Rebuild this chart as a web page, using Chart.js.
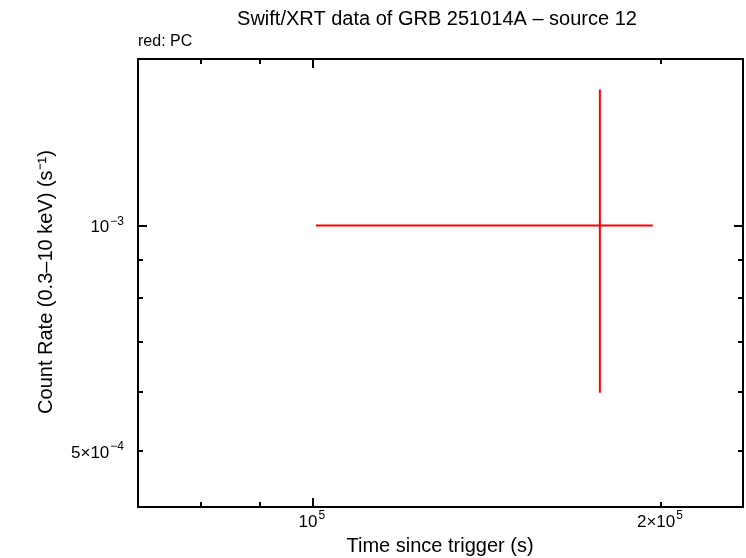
<!DOCTYPE html>
<html lang="en">
<head>
    <meta charset="UTF-8">
    <title>Swift/XRT data of GRB 251014A - source 12</title>
    <script src="https://cdn.jsdelivr.net/npm/chart.js"></script>
    <style>
        body { margin: 0; background: #fff; }
        canvas { display: block; }
    </style>
</head>
<body>
    <canvas id="lcChart" width="746" height="558"></canvas>

    <script>
        // light curve bin (PC mode)
        const timeCenter = [177100];
        const timeLo = [100600];
        const timeHi = [196800];
        const rate = [1.0e-3];
        const rateLo = [5.98e-4];
        const rateHi = [1.52e-3];

        // axis ranges and ticks (labels are [mantissa, exponent])
        const xRange = [70600, 235500];
        const yRange = [4.21e-4, 1.669e-3];
        const xMajor = [1e5, 2e5];
        const xLabels = [['10', '5'], ['2×10', '5']];
        const xMinor = [8e4, 9e4];
        const yMajor = [1e-3, 5e-4];
        const yLabels = [['10', '−3'], ['5×10', '−4']];
        const yMinor = [6e-4, 7e-4, 8e-4, 9e-4];

        const FONT = '"Liberation Sans", Arial, sans-serif';

        // each bin -> horizontal + vertical error segment
        const datasets = [];
        timeCenter.forEach((t, i) => {
            datasets.push({
                data: [{x: timeLo[i], y: rate[i]}, {x: timeHi[i], y: rate[i]}],
                borderColor: '#ff0000', borderWidth: 2, pointRadius: 0, showLine: true
            });
            datasets.push({
                data: [{x: t, y: rateLo[i]}, {x: t, y: rateHi[i]}],
                borderColor: '#ff0000', borderWidth: 2, pointRadius: 0, showLine: true
            });
        });

        // draws "base^sup"; align: 'center' or 'right' around x
        function supLabel(c, parts, x, y, align) {
            c.font = '17px ' + FONT;
            const wb = c.measureText(parts[0]).width;
            c.font = '12px ' + FONT;
            const ws = c.measureText(parts[1]).width;
            const total = wb + 1 + ws;
            const x0 = align === 'right' ? x - total : x - total / 2;
            c.textAlign = 'left';
            c.textBaseline = 'middle';
            c.font = '17px ' + FONT;
            c.fillText(parts[0], x0, y);
            c.font = '12px ' + FONT;
            c.fillText(parts[1], x0 + wb + 1, y - 6);
        }

        const frame = {
            id: 'frame',
            afterDraw(chart) {
                const c = chart.ctx, a = chart.chartArea;
                const xs = chart.scales.x, ys = chart.scales.y;
                c.save();
                c.strokeStyle = '#000';
                c.lineWidth = 2;
                c.strokeRect(a.left, a.top, a.right - a.left, a.bottom - a.top);

                const xt = (v, len) => {
                    const p = Math.round(xs.getPixelForValue(v));
                    c.beginPath();
                    c.moveTo(p, a.bottom); c.lineTo(p, a.bottom - len);
                    c.moveTo(p, a.top); c.lineTo(p, a.top + len);
                    c.stroke();
                };
                const yt = (v, len) => {
                    const p = Math.round(ys.getPixelForValue(v));
                    c.beginPath();
                    c.moveTo(a.left, p); c.lineTo(a.left + len, p);
                    c.moveTo(a.right, p); c.lineTo(a.right - len, p);
                    c.stroke();
                };
                xt(xMajor[0], 9); xt(xMajor[1], 5);
                xMinor.forEach(v => xt(v, 5));
                yt(yMajor[0], 9); yt(yMajor[1], 5);
                yMinor.forEach(v => yt(v, 5));

                c.fillStyle = '#000';
                xMajor.forEach((v, i) => supLabel(c, xLabels[i], xs.getPixelForValue(v) - 1, a.bottom + 15, 'center'));
                yMajor.forEach((v, i) => supLabel(c, yLabels[i], a.left - 14, ys.getPixelForValue(v) + 2, 'right'));

                c.font = '20px ' + FONT;
                c.textBaseline = 'middle';
                c.textAlign = 'center';
                c.fillText('Swift/XRT data of GRB 251014A – source 12', 437, 19);
                c.fillText('Time since trigger (s)', 440, 546);
                c.font = '16px ' + FONT;
                c.textAlign = 'left';
                c.fillText('red: PC', 138, 42);

                c.font = '20px ' + FONT;
                c.translate(46, 282);
                c.rotate(-Math.PI / 2);
                c.textAlign = 'center';
                c.fillText('Count Rate (0.3–10 keV) (s⁻¹)', 0, 0);
                c.restore();
            }
        };

        new Chart(document.getElementById('lcChart'), {
            type: 'scatter',
            data: { datasets: datasets },
            options: {
                responsive: false,
                animation: false,
                layout: { padding: { top: 59, right: 3, left: 0, bottom: 0 } },
                plugins: { legend: { display: false }, tooltip: { enabled: false } },
                scales: {
                    x: {
                        type: 'logarithmic',
                        min: xRange[0], max: xRange[1],
                        grid: { display: false, drawTicks: false },
                        border: { display: false },
                        afterBuildTicks: s => { s.ticks = xMajor.map(v => ({ value: v })); },
                        afterFit: s => { s.height = 51; },
                        ticks: { display: false }
                    },
                    y: {
                        type: 'logarithmic',
                        min: yRange[0], max: yRange[1],
                        grid: { display: false, drawTicks: false },
                        border: { display: false },
                        afterBuildTicks: s => { s.ticks = yMajor.map(v => ({ value: v })); },
                        afterFit: s => { s.width = 138; },
                        ticks: { display: false }
                    }
                }
            },
            plugins: [frame]
        });
    </script>
</body>
</html>
